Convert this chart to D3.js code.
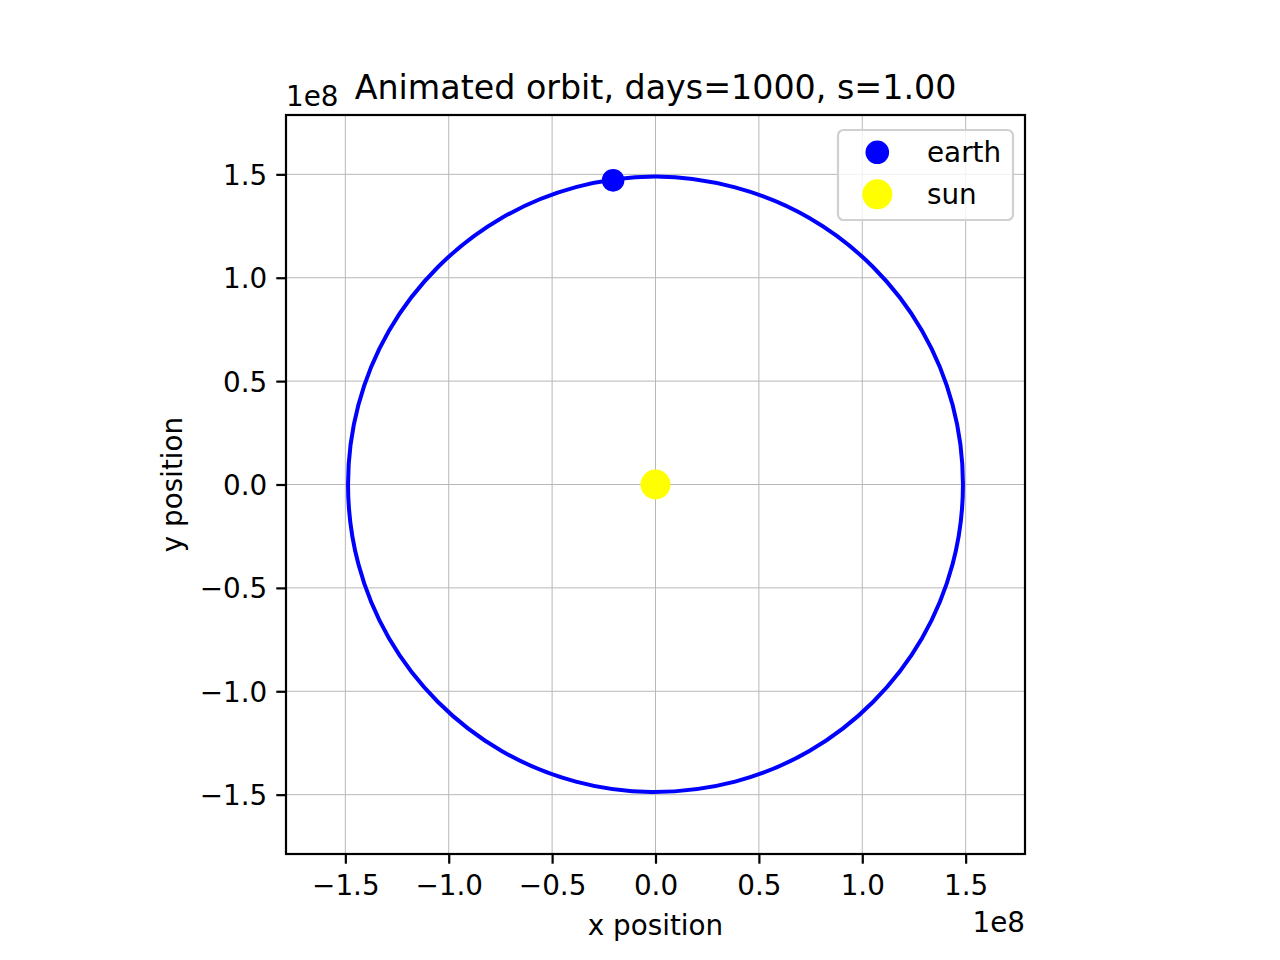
<!DOCTYPE html>
<html>
<head>
<meta charset="utf-8">
<script src="https://cdn.jsdelivr.net/npm/d3@7"></script>
<style>
  body { margin: 0; background: #fff; }
  text { font-family: "DejaVu Sans", sans-serif; fill: #000; }
</style>
</head>
<body>
<svg id="chart" width="1280" height="960"></svg>
<script>
// orbit path of the earth (units of 1e8)
var orbitX = [1.487, 1.437, 1.289, 1.052, 0.744, 0.385, 0.000, -0.385, -0.744, -1.052, -1.289, -1.437,
              -1.487, -1.437, -1.289, -1.052, -0.744, -0.385, -0.020, 0.385, 0.744, 1.052, 1.289, 1.437];
var orbitY = [0.000, 0.385, 0.744, 1.052, 1.289, 1.437, 1.490, 1.438, 1.289, 1.052, 0.744, 0.385,
              0.000, -0.385, -0.744, -1.052, -1.289, -1.437, -1.487, -1.437, -1.289, -1.052, -0.744, -0.385];
var earthPos = [-0.205, 1.471];
var sunPos = [0.0, 0.0];
var tickValues = [-1.5, -1.0, -0.5, 0.0, 0.5, 1.0, 1.5];
var legendNames = ['earth', 'sun'];
var legendColors = ['#0000ff', '#ffff00'];
var titleText = 'Animated orbit, days=1000, s=1.00';

var svg = d3.select('#chart');
var plotLeft = 286, plotRight = 1025, plotTop = 115, plotBottom = 854;

var x = d3.scaleLinear().domain([-1.787, 1.787]).range([plotLeft, plotRight]);
var y = d3.scaleLinear().domain([-1.787, 1.787]).range([plotBottom, plotTop]);
var fmt = function(d) { return d3.format('.1f')(d).replace('-', '\u2212'); };

// grid
var grid = svg.append('g');
grid.selectAll('line.gx').data(tickValues).enter().append('line')
  .attr('x1', function(d) { return x(d); }).attr('x2', function(d) { return x(d); })
  .attr('y1', plotTop).attr('y2', plotBottom)
  .attr('stroke', '#b8b8b8').attr('stroke-width', 1);
grid.selectAll('line.gy').data(tickValues).enter().append('line')
  .attr('y1', function(d) { return y(d); }).attr('y2', function(d) { return y(d); })
  .attr('x1', plotLeft).attr('x2', plotRight)
  .attr('stroke', '#b8b8b8').attr('stroke-width', 1);

// orbit line
var orbit = d3.range(orbitX.length).map(function(i) { return [orbitX[i], orbitY[i]]; });
var line = d3.line()
  .x(function(d) { return x(d[0]); })
  .y(function(d) { return y(d[1]); })
  .curve(d3.curveCatmullRomClosed);
svg.append('path').datum(orbit)
  .attr('d', line)
  .attr('fill', 'none')
  .attr('stroke', '#0000ff')
  .attr('stroke-width', 4);

// bodies
svg.append('circle').attr('cx', x(earthPos[0])).attr('cy', y(earthPos[1])).attr('r', 11.3).attr('fill', '#0000ff');
svg.append('circle').attr('cx', x(sunPos[0])).attr('cy', y(sunPos[1])).attr('r', 15).attr('fill', '#ffff00');

// axes
var xAxis = d3.axisBottom(x).tickValues(tickValues).tickFormat(fmt).tickSize(9.7).tickPadding(12);
var yAxis = d3.axisLeft(y).tickValues(tickValues).tickFormat(fmt).tickSize(9.7).tickPadding(9);
var gx = svg.append('g').attr('transform', 'translate(0,' + plotBottom + ')').call(xAxis);
var gy = svg.append('g').attr('transform', 'translate(' + plotLeft + ',0)').call(yAxis);
[gx, gy].forEach(function(g) {
  g.select('.domain').remove();
  g.selectAll('.tick line').attr('stroke', '#000').attr('stroke-width', 2.2);
  g.selectAll('.tick text').attr('font-size', '27.8px').attr('font-family', 'DejaVu Sans').attr('fill', '#000');
});
gy.selectAll('.tick text').attr('dy', '0.36em');

// frame
svg.append('rect').attr('x', plotLeft).attr('y', plotTop)
  .attr('width', plotRight - plotLeft).attr('height', plotBottom - plotTop)
  .attr('fill', 'none').attr('stroke', '#000').attr('stroke-width', 2.2);

// offset labels
svg.append('text').attr('x', plotLeft).attr('y', 106).attr('font-size', '27.8px').text('1e8');
svg.append('text').attr('x', plotRight).attr('y', 932).attr('text-anchor', 'end').attr('font-size', '27.8px').text('1e8');

// title and labels
svg.append('text').attr('x', (plotLeft + plotRight) / 2).attr('y', 99).attr('text-anchor', 'middle')
  .attr('font-size', '33.3px').text(titleText);
svg.append('text').attr('x', (plotLeft + plotRight) / 2).attr('y', 935).attr('text-anchor', 'middle')
  .attr('font-size', '27.8px').text('x position');
svg.append('text').attr('transform', 'translate(182,' + (plotTop + plotBottom) / 2 + ') rotate(-90)')
  .attr('text-anchor', 'middle').attr('font-size', '27.8px').text('y position');

// legend
var legend = svg.append('g');
legend.append('rect').attr('x', 838).attr('y', 130).attr('width', 175).attr('height', 90)
  .attr('rx', 5.5).attr('fill', '#fff').attr('fill-opacity', 0.8)
  .attr('stroke', '#d0d0d0').attr('stroke-width', 2.2);
var sizes = [11.8, 15];
var items = legend.selectAll('g.item').data(legendNames).enter().append('g')
  .attr('transform', function(d, i) { return 'translate(0,' + (152.3 + i * 42) + ')'; });
items.append('circle').attr('cx', 877.3).attr('cy', 0)
  .attr('r', function(d, i) { return sizes[i]; })
  .attr('fill', function(d, i) { return legendColors[i]; });
items.append('text').attr('x', 927).attr('y', 9.7).attr('font-size', '27.8px')
  .text(function(d) { return d; });
</script>
</body>
</html>
